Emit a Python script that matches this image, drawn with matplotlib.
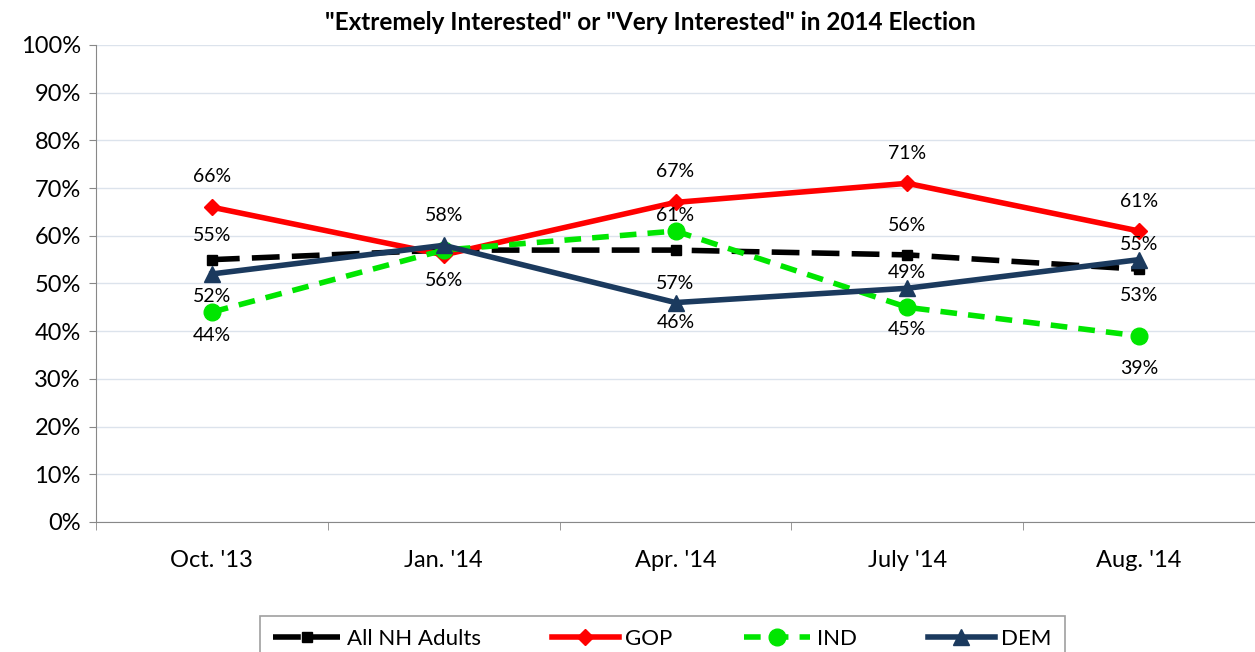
import matplotlib
matplotlib.use('agg')
import matplotlib.pyplot as plt
from matplotlib.ticker import FixedLocator, PercentFormatter

# survey waves
waves = ["Oct. '13", "Jan. '14", "Apr. '14", "July '14", "Aug. '14"]

all_adults = [55, 57, 57, 56, 53]
gop = [66, 56, 67, 71, 61]
ind = [44, 57, 61, 45, 39]
dem = [52, 58, 46, 49, 55]

# which points carry a label: (series, index) -> vertical pixel offset
label_offsets = {
    'all': {0: 24, 2: -33, 3: 29, 4: -26},
    'gop': {0: 31, 1: -26, 2: 31, 3: 30, 4: 30},
    'ind': {0: -23, 2: 16, 3: -22, 4: -33},
    'dem': {0: -23, 1: 30, 2: -20, 3: 16, 4: 15},
}

plt.rcParams['font.family'] = ['Lato', 'DejaVu Sans']

fig = plt.figure(figsize=(12.55, 6.52), dpi=100)
ax = fig.add_axes([0.0765, 0.1994, 0.9235, 0.7316])

x = list(range(len(waves)))
series = [
    ('all', 'All NH Adults', all_adults, dict(color='black', marker='s', markersize=7, linestyle=(0, (5, 2.2)))),
    ('gop', 'GOP', gop, dict(color='#FF0000', marker='D', markersize=8, linestyle='-')),
    ('ind', 'IND', ind, dict(color='#00E600', marker='o', markersize=12, linestyle=(0, (3, 2)))),
    ('dem', 'DEM', dem, dict(color='#1B3A5E', marker='^', markersize=11, linestyle='-')),
]

for key, name, vals, style in series:
    ax.plot(x, vals, linewidth=4, label=name, zorder=3, **style)
    for i, off in label_offsets[key].items():
        ax.annotate('%d%%' % vals[i], (x[i], vals[i]), xytext=(0, off),
                    textcoords='offset pixels', ha='center', va='center',
                    fontsize=14, color='black', zorder=5)

ax.set_xlim(-0.5, len(waves) - 0.5)
ax.set_ylim(0, 100)
ax.yaxis.set_major_locator(FixedLocator(range(0, 101, 10)))
ax.yaxis.set_major_formatter(PercentFormatter(decimals=0))
ax.set_xticks(x)
ax.set_xticklabels(waves)
ax.xaxis.set_minor_locator(FixedLocator([i - 0.5 for i in range(len(waves) + 1)]))
ax.tick_params(axis='x', which='major', length=0, pad=20, labelsize=17)
ax.tick_params(axis='x', which='minor', length=6, color='#888888')
ax.tick_params(axis='y', length=5, color='#888888', labelsize=17, pad=6)

ax.grid(axis='y', color='#DCE3EC', linewidth=1)
ax.set_axisbelow(True)
for side in ['top', 'right']:
    ax.spines[side].set_visible(False)
ax.spines['left'].set_color('#888888')
ax.spines['bottom'].set_color('#888888')

fig.text(0.518, 0.966, '"Extremely Interested" or "Very Interested" in 2014 Election',
         ha='center', va='center', fontsize=17.5, fontweight='bold')

leg = fig.legend(loc='upper center', bbox_to_anchor=(0.528, 0.073), ncol=4,
                 fontsize=16, frameon=True, fancybox=False, handlelength=3.0,
                 columnspacing=3.2, borderpad=0.6, handletextpad=0.3)
leg.get_frame().set_edgecolor('#888888')
leg.get_frame().set_linewidth(1.2)

plt.savefig('out.png', dpi=100)
